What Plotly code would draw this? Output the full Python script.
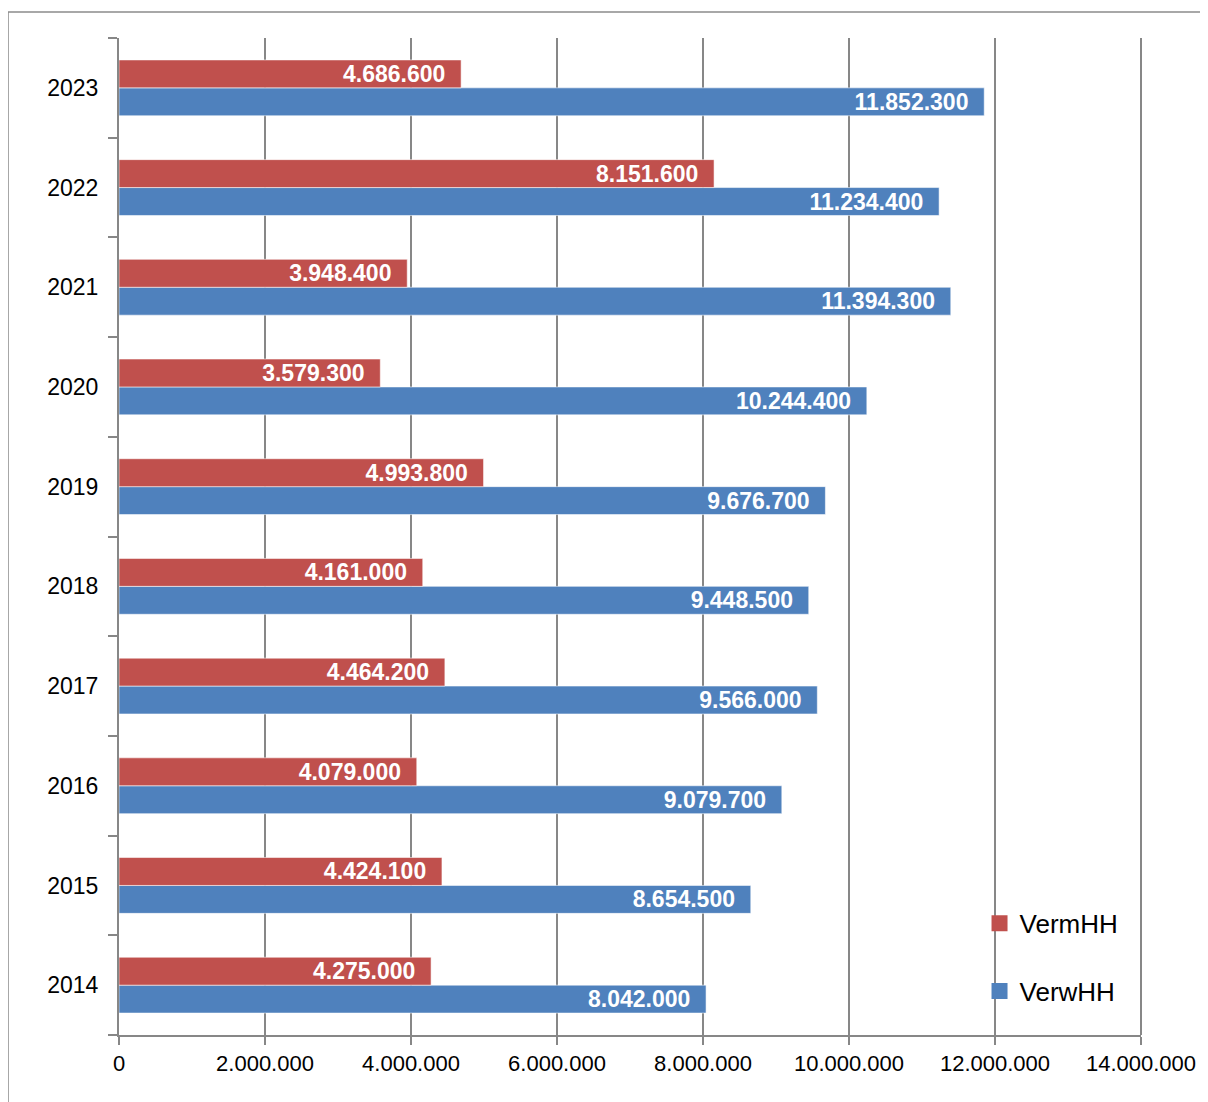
import plotly.graph_objects as go

years = ["2014", "2015", "2016", "2017", "2018", "2019", "2020", "2021", "2022", "2023"]
verm_hh = [4275000, 4424100, 4079000, 4464200, 4161000, 4993800, 3579300, 3948400, 8151600, 4686600]
verw_hh = [8042000, 8654500, 9079700, 9566000, 9448500, 9676700, 10244400, 11394300, 11234400, 11852300]
x_ticks = [0, 2000000, 4000000, 6000000, 8000000, 10000000, 12000000, 14000000]

RED = "#C0504D"
BLUE = "#4F81BD"
FONT = "Liberation Sans, Arial, sans-serif"
GRID = "#878787"

fig = go.Figure()
fig.add_trace(go.Bar(
    y=years, x=verw_hh, name="VerwHH", orientation="h", showlegend=False,
    marker=dict(color=BLUE, line=dict(color="rgba(255,255,255,0.55)", width=1)),
    texttemplate="%{x:,.0f}\u00a0\u00a0", textposition="inside", insidetextanchor="end",
    textfont=dict(color="white", size=23, family=FONT, weight="bold"),
    constraintext="none",
))
fig.add_trace(go.Bar(
    y=years, x=verm_hh, name="VermHH", orientation="h", showlegend=False,
    marker=dict(color=RED, line=dict(color="rgba(255,255,255,0.55)", width=1)),
    texttemplate="%{x:,.0f}\u00a0\u00a0", textposition="inside", insidetextanchor="end",
    textfont=dict(color="white", size=23, family=FONT, weight="bold"),
    constraintext="none",
))
# legend entries (square swatches)
fig.add_trace(go.Scatter(
    x=[None], y=[None], mode="markers", name="VermHH", legendgroup="a", legendrank=1,
    marker=dict(symbol="square", size=17, color=RED),
))
fig.add_trace(go.Scatter(
    x=[None], y=[None], mode="markers", name="VerwHH", legendgroup="b", legendrank=2,
    marker=dict(symbol="square", size=17, color=BLUE),
))

fig.update_layout(
    width=1200, height=1094,
    margin=dict(l=111, r=67, t=30, b=67, autoexpand=False),
    paper_bgcolor="white", plot_bgcolor="white",
    barmode="group", bargap=0.44, bargroupgap=0,
    separators=",.",
    showlegend=True,
    legend=dict(
        x=0.842, xanchor="left", y=0.078, yanchor="middle",
        traceorder="grouped", tracegroupgap=31,
        font=dict(family=FONT, size=26, color="black"),
        bgcolor="rgba(0,0,0,0)",
    ),
    xaxis=dict(
        range=[0, 14000000], tickvals=x_ticks, tickformat=",.0f",
        showgrid=True, gridcolor=GRID, gridwidth=2,
        showline=True, linecolor=GRID, linewidth=2,
        ticks="outside", ticklen=8, tickcolor=GRID, tickwidth=2,
        tickfont=dict(family=FONT, size=22, color="black"),
        zeroline=False, fixedrange=True,
    ),
    yaxis=dict(
        type="category", tickson="boundaries",
        showline=True, linecolor=GRID, linewidth=2,
        ticks="outside", ticklen=9, tickcolor=GRID, tickwidth=2,
        tickfont=dict(family=FONT, size=23, color="black"),
        ticklabelstandoff=14,
        showgrid=False, zeroline=False,
    ),
    shapes=[
        dict(
            type="rect", xref="paper", yref="paper",
            x0=-0.1086, x1=1.07, y0=-0.075, y1=1.0261,
            line=dict(color="#8C8C8C", width=1.5), fillcolor="rgba(0,0,0,0)", layer="below",
        ),
        dict(
            type="line", xref="paper", yref="paper",
            x0=1, x1=1, y0=0, y1=1,
            line=dict(color=GRID, width=2), layer="below",
        ),
    ],
)

fig.write_html("out.html")
